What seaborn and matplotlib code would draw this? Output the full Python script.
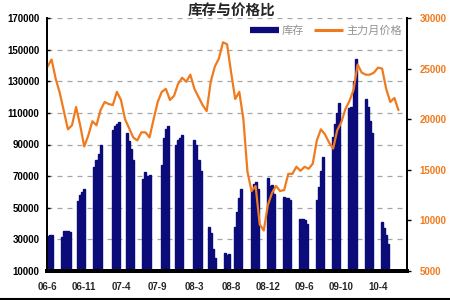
import numpy as np
import pandas as pd
import matplotlib
matplotlib.use("Agg")
import matplotlib.pyplot as plt
import seaborn as sns
from matplotlib.lines import Line2D

# ---------------- data ----------------
title = "库存与价格比"
inv_label = "库存"
price_label = "主力月价格"
tick_labels = ["06-6", "06-11", "07-4", "07-9", "08-3", "08-8", "08-12", "09-6", "09-10", "10-4"]
tick_every = 18          # periods between x labels
n_periods = 177

# inventory: first period of each reporting block and the values inside it
inv_start = [0, 7, 15, 23, 32, 39, 47, 56, 63, 72, 79, 87, 92, 100, 108, 116, 124, 132, 140, 148, 156, 164]
inv_blocks = [
    [32000, 32500, 33000],
    [31500, 35000, 35500, 35000, 34500],
    [54000, 58000, 60000, 62000],
    [76000, 80000, 84000, 90000],
    [99000, 102000, 103000, 104000],
    [97000, 92000, 87000, 80000],
    [68000, 72500, 70000, 71000],
    [77000, 94000, 100000, 102000],
    [90000, 93000, 94000, 96000],
    [93000, 90000, 80000, 73000],
    [38000, 34000, 24000, 18000],
    [21500, 20000, 21000],
    [38000, 47000, 56000, 62000],
    [62000, 65000, 66500, 62000],
    [69000, 64000, 64500, 59000],
    [57000, 56000, 56000, 55000],
    [43000, 43000, 42000, 40000],
    [55000, 63000, 73000, 82000],
    [95000, 103000, 110000, 116000],
    [113000, 114000, 130000, 144000],
    [119000, 114000, 105000, 97000],
    [41000, 37000, 33000, 27000],
]

# main-month price, one value every 2 periods
price_step = 2
price = [25200, 25900, 24000, 22600, 20800, 19000, 19400, 21200, 19400, 17300,
         18400, 19800, 19400, 20900, 21700, 21500, 21400, 22700, 21900, 20000,
         19100, 18200, 17900, 18700, 18700, 18200, 20000, 21700, 22700, 23000,
         21900, 22300, 23500, 24100, 23700, 24400, 23000, 22200, 21400, 20800,
         23700, 25200, 26000, 27600, 27400, 24600, 22000, 22700, 20000, 14800,
         12900, 13400, 9600, 9000, 11500, 12700, 13400, 12900, 13000, 14600,
         14600, 15300, 14900, 15300, 15100, 15600, 17900, 19000, 18500, 17700,
         17100, 18900, 19700, 21000, 21800, 22900, 25400, 24600, 24400, 24400,
         24600, 25100, 25000, 23000, 21700, 22100, 20900]

left_ticks = [10000, 30000, 50000, 70000, 90000, 110000, 130000, 150000, 170000]
right_ticks = [5000, 10000, 15000, 20000, 25000, 30000]

# ---------------- style ----------------
navy = "#0B0B7A"
orange = "#F07A1E"
sns.set_style("white")
plt.rcParams["font.family"] = ["Liberation Sans", "Noto Sans CJK SC", "DejaVu Sans"]

inv_weeks, inv_vals = [], []
for s, blk in zip(inv_start, inv_blocks):
    for i, v in enumerate(blk):
        inv_weeks.append(s + i)
        inv_vals.append(v)
inv_df = pd.DataFrame({"week": inv_weeks, "inv": inv_vals})
price_df = pd.DataFrame({"week": np.arange(len(price)) * price_step, "price": price})

fig = plt.figure(figsize=(4.5, 3), dpi=100)
ax = fig.add_axes([46.5 / 450, 29 / 300, (407 - 46.5) / 450, (271 - 18) / 300])

sns.barplot(data=inv_df, x="week", y="inv", native_scale=True, width=1.0,
            color=navy, saturation=1, errorbar=None, ax=ax,
            edgecolor=navy, linewidth=1.0)
ax.set_xlim(-0.5, n_periods - 0.8)
ax.set_ylim(10000, 170000)
ax.set_yticks(left_ticks)
ax.set_yticklabels([str(v) for v in left_ticks])
ax.set_xticks(np.arange(len(tick_labels)) * tick_every)
ax.set_xticklabels(tick_labels)
ax.set_xlabel("")
ax.set_ylabel("")
ax.yaxis.grid(True, linestyle=(0, (4, 4)), color="#A6A6A6", linewidth=0.9)
ax.xaxis.grid(False)
ax.set_axisbelow(True)
ax.tick_params(axis="y", length=2.5, width=1, pad=5, labelsize=7, colors="black", direction="in")
ax.tick_params(axis="x", length=0, pad=8, labelsize=7)
for lab in ax.get_xticklabels() + ax.get_yticklabels():
    lab.set_fontweight("bold")

ax2 = ax.twinx()
sns.lineplot(data=price_df, x="week", y="price", ax=ax2, color=orange, linewidth=1.6)
ax2.set_ylim(5000, 30000)
ax2.set_yticks(right_ticks)
ax2.set_yticklabels([str(v) for v in right_ticks])
ax2.set_ylabel("")
ax2.set_xlim(-0.5, n_periods - 0.8)
ax2.tick_params(axis="y", length=3, width=1, pad=6, labelsize=7, colors=orange)
ax2.tick_params(axis="y", color="black")
for lab in ax2.get_yticklabels():
    lab.set_fontweight("bold")
    lab.set_color(orange)

for a in (ax, ax2):
    a.spines["top"].set_visible(False)
    a.spines["left"].set_color("black")
    a.spines["right"].set_color("black")
    a.spines["bottom"].set_color("black")
    a.spines["left"].set_linewidth(1.3)
    a.spines["right"].set_linewidth(1.3)
    a.spines["bottom"].set_linewidth(2.8)

handles = [Line2D([], [], color=navy, lw=4.5, solid_capstyle="butt"),
           Line2D([], [], color=orange, lw=2.2, solid_capstyle="butt")]
leg = fig.legend(handles, [inv_label, price_label], loc="center",
                 bbox_to_anchor=(326 / 450, 1 - 31 / 300), ncol=2, frameon=False,
                 fontsize=8, handlelength=2.6, handletextpad=0.3, columnspacing=0.9,
                 labelcolor="#939393")

fig.text(232 / 450, 1 - 11 / 300, title, ha="center", va="center",
         fontsize=10.5, fontweight="bold", family=["Noto Sans CJK SC", "DejaVu Sans"])

fig.add_artist(Line2D([0, 1], [1.5 / 300, 1.5 / 300], color="black", lw=1.5,
                      transform=fig.transFigure))

fig.savefig("out.png", dpi=100)
